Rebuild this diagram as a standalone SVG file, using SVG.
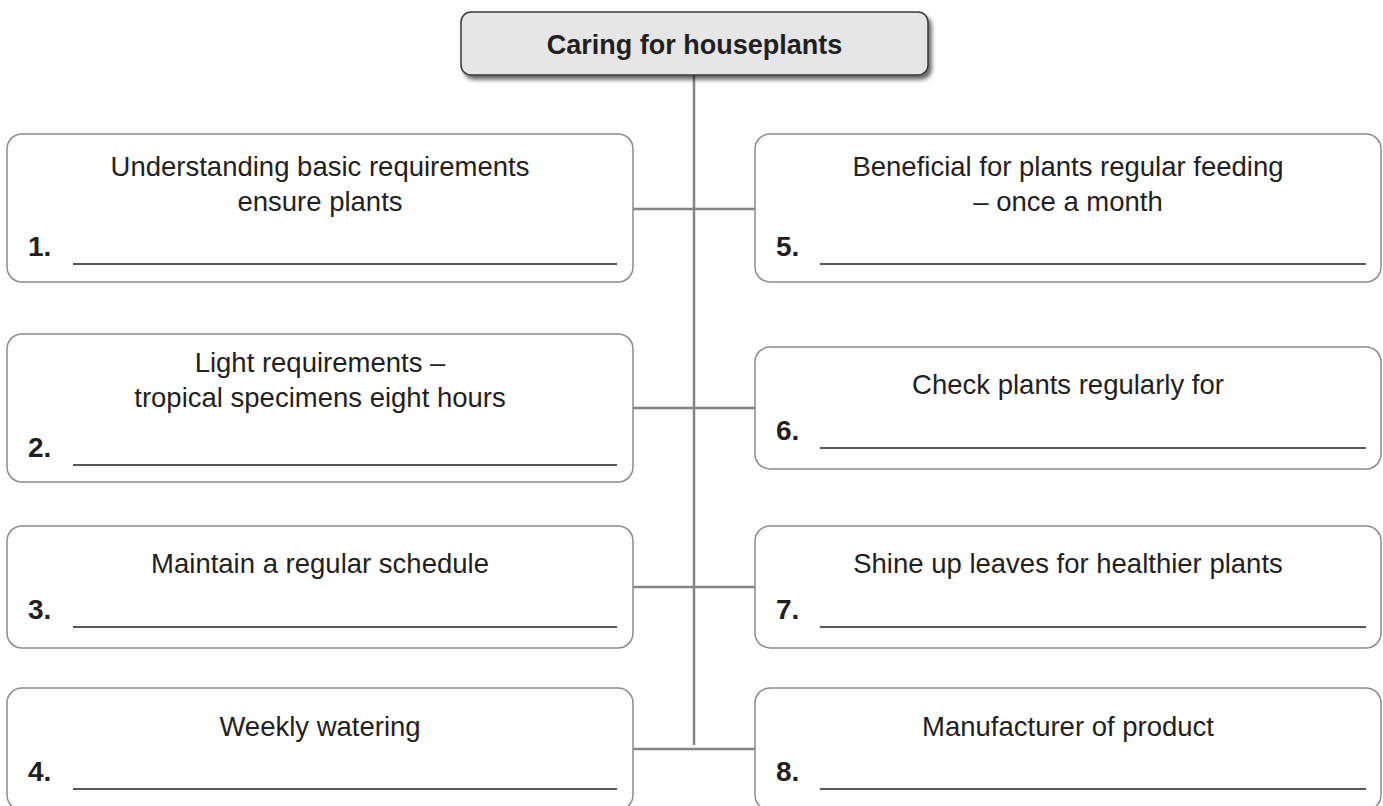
<svg xmlns="http://www.w3.org/2000/svg" width="1383" height="806" viewBox="0 0 1383 806">
<style>
.box{fill:#fff;stroke:#8c8c8c;stroke-width:1.5}
.t{font-family:"Liberation Sans",Arial,sans-serif;font-size:27.5px;fill:#231f20;text-anchor:middle}
.n{font-family:"Liberation Sans",Arial,sans-serif;font-size:28px;font-weight:bold;fill:#231f20}
.u{stroke:#231f20;stroke-width:1.5}
.c{stroke:#858589;stroke-width:2.5;fill:none}
</style>
<defs>
<filter id="sh" x="-5%" y="-20%" width="115%" height="160%">
<feGaussianBlur in="SourceAlpha" stdDeviation="2"/>
<feOffset dx="3" dy="4" result="b"/>
<feComponentTransfer><feFuncA type="linear" slope="0.6"/></feComponentTransfer>
<feMerge><feMergeNode/><feMergeNode in="SourceGraphic"/></feMerge>
</filter>
</defs>
<rect width="1383" height="806" fill="#fff"/>
<g id="connectors">
<line class="c" x1="694" y1="75" x2="694" y2="745"/>
<line class="c" x1="633" y1="209" x2="755" y2="209"/>
<line class="c" x1="633" y1="408" x2="755" y2="408"/>
<line class="c" x1="633" y1="587" x2="755" y2="587"/>
<line class="c" x1="633" y1="749" x2="755" y2="749"/>
</g>
<g id="title">
<rect x="461" y="12" width="467" height="63" rx="10" fill="#e6e6e6" stroke="#3a3a3a" stroke-width="1.5" filter="url(#sh)"/>
<text x="694.5" y="54" class="t" style="font-weight:bold;font-size:27px">Caring for houseplants</text>
</g>
<g id="node1">
<rect class="box" x="7" y="134" width="626" height="148" rx="15"/>
<text class="t" x="320" y="176">Understanding basic requirements</text>
<text class="t" x="320" y="211">ensure plants</text>
<text class="n" x="28" y="256">1.</text>
<line class="u" x1="73" y1="264" x2="617" y2="264"/>
</g>
<g id="node2">
<rect class="box" x="7" y="334" width="626" height="148" rx="15"/>
<text class="t" x="320" y="372">Light requirements –</text>
<text class="t" x="320" y="407">tropical specimens eight hours</text>
<text class="n" x="28" y="457">2.</text>
<line class="u" x1="73" y1="465" x2="617" y2="465"/>
</g>
<g id="node3">
<rect class="box" x="7" y="526" width="626" height="122" rx="15"/>
<text class="t" x="320" y="573">Maintain a regular schedule</text>
<text class="n" x="28" y="619">3.</text>
<line class="u" x1="73" y1="627" x2="617" y2="627"/>
</g>
<g id="node4">
<rect class="box" x="7" y="688" width="626" height="122" rx="15"/>
<text class="t" x="320" y="736">Weekly watering</text>
<text class="n" x="28" y="781">4.</text>
<line class="u" x1="73" y1="789" x2="617" y2="789"/>
</g>
<g id="node5">
<rect class="box" x="755" y="134" width="626" height="148" rx="15"/>
<text class="t" x="1068" y="176">Beneficial for plants regular feeding</text>
<text class="t" x="1068" y="211">– once a month</text>
<text class="n" x="776" y="256">5.</text>
<line class="u" x1="820" y1="264" x2="1366" y2="264"/>
</g>
<g id="node6">
<rect class="box" x="755" y="347" width="626" height="122" rx="15"/>
<text class="t" x="1068" y="394">Check plants regularly for</text>
<text class="n" x="776" y="440">6.</text>
<line class="u" x1="820" y1="448" x2="1366" y2="448"/>
</g>
<g id="node7">
<rect class="box" x="755" y="526" width="626" height="122" rx="15"/>
<text class="t" x="1068" y="573">Shine up leaves for healthier plants</text>
<text class="n" x="776" y="619">7.</text>
<line class="u" x1="820" y1="627" x2="1366" y2="627"/>
</g>
<g id="node8">
<rect class="box" x="755" y="688" width="626" height="122" rx="15"/>
<text class="t" x="1068" y="736">Manufacturer of product</text>
<text class="n" x="776" y="781">8.</text>
<line class="u" x1="820" y1="789" x2="1366" y2="789"/>
</g>
</svg>
